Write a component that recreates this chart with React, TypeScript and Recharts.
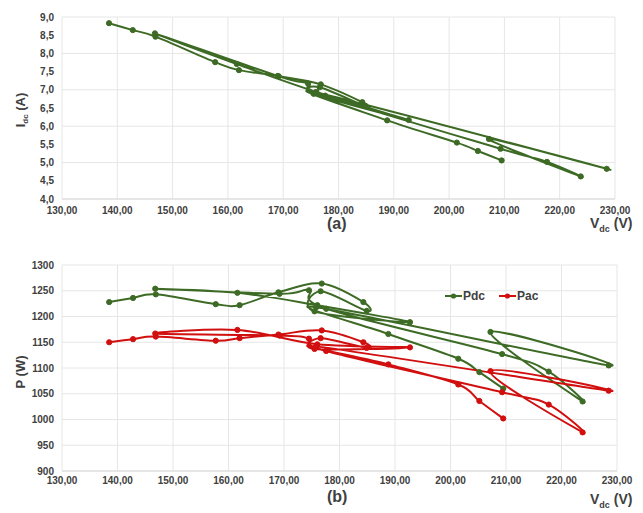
import React from 'react';
import { LineChart, Line, XAxis, YAxis, CartesianGrid } from 'recharts';

// measured points, in recording order
const vdc = [
  138.5, 142.8, 146.9, 157.7, 162.0, 169.0, 176.8, 184.3, 184.9, 176.6,
  175.5, 192.7, 176.0, 161.6, 146.8, 169.2, 174.5, 177.6, 209.3, 217.7,
  223.8, 207.2, 228.5, 175.8, 188.8, 201.4, 205.2, 209.5,
];
const idc = [
  8.83, 8.64, 8.46, 7.76, 7.54, 7.38, 7.15, 6.66, 6.55, 7.07,
  6.89, 6.17, 6.94, 7.71, 8.55, 7.37, 7.17, 6.84, 5.38, 5.02,
  4.62, 5.65, 4.83, 6.93, 6.16, 5.55, 5.32, 5.06,
];
const pdc = [
  1228, 1236, 1243, 1224, 1222, 1247, 1264, 1228, 1211, 1249,
  1210, 1189, 1222, 1246, 1254, 1244, 1251, 1215, 1127, 1093,
  1035, 1170, 1105, 1218, 1166, 1118, 1092, 1060,
];
const pac = [
  1150, 1156, 1161, 1153, 1158, 1165, 1173, 1150, 1139, 1158,
  1137, 1140, 1146, 1174, 1167, 1163, 1157, 1133, 1053, 1029,
  975, 1094, 1056, 1142, 1107, 1068, 1036, 1002,
];

const vTicks = [130, 140, 150, 160, 170, 180, 190, 200, 210, 220, 230];
const iTicks = [4, 4.5, 5, 5.5, 6, 6.5, 7, 7.5, 8, 8.5, 9];
const pTicks = [900, 950, 1000, 1050, 1100, 1150, 1200, 1250, 1300];

const GREEN = '#3d6b25';
const RED = '#d10f0f';
const FONT = '"Liberation Sans", Arial, sans-serif';
const TXT = '#404040';

const rows = vdc.map((v, k) => ({ v, i: idc[k], pdc: pdc[k], pac: pac[k] }));

const fmt2 = (n: number) => n.toFixed(2).replace('.', ',');
const fmt1 = (n: number) => n.toFixed(1).replace('.', ',');

// excel-like smoothed scatter line, keeps point order
const smoothCurve = (context: any) => {
  let pts: number[][] = [];
  return {
    areaStart() {},
    areaEnd() {},
    lineStart() {
      pts = [];
    },
    point(x: number, y: number) {
      pts.push([x, y]);
    },
    lineEnd() {
      const n = pts.length;
      if (!n) return;
      context.moveTo(pts[0][0], pts[0][1]);
      for (let k = 0; k < n - 1; k++) {
        const p0 = pts[k - 1] || pts[k];
        const p1 = pts[k];
        const p2 = pts[k + 1];
        const p3 = pts[k + 2] || p2;
        context.bezierCurveTo(
          p1[0] + (p2[0] - p0[0]) / 6,
          p1[1] + (p2[1] - p0[1]) / 6,
          p2[0] - (p3[0] - p1[0]) / 6,
          p2[1] - (p3[1] - p1[1]) / 6,
          p2[0],
          p2[1]
        );
      }
    },
  };
};

const tick = { fontSize: 10, fontWeight: 700, fill: TXT, fontFamily: FONT };

const abs = (left: number, top: number, extra: React.CSSProperties = {}): React.CSSProperties => ({
  position: 'absolute',
  left,
  top,
  fontFamily: FONT,
  fontWeight: 700,
  color: TXT,
  whiteSpace: 'nowrap',
  lineHeight: 1,
  ...extra,
});

const VdcLabel = ({ top }: { top: number }) => (
  <div style={abs(590, top, { fontSize: 14 })}>
    V<sub style={{ fontSize: 9 }}>dc</sub> (V)
  </div>
);

const LegendItem = ({ color, text }: { color: string; text: string }) => (
  <span style={{ display: 'inline-flex', alignItems: 'center', marginRight: 14 }}>
    <svg width={17} height={8}>
      <line x1={0} y1={4} x2={17} y2={4} stroke={color} strokeWidth={2} />
      <circle cx={8.5} cy={4} r={2.6} fill={color} />
    </svg>
    <span style={{ marginLeft: 1 }}>{text}</span>
  </span>
);

export default function App() {
  const dotG = { r: 2.6, fill: GREEN, stroke: GREEN, strokeWidth: 1 };
  const dotR = { r: 2.6, fill: RED, stroke: RED, strokeWidth: 1 };
  return (
    <div style={{ position: 'relative', width: 643, height: 513, background: '#fff' }}>
      <style>{'body{margin:0}'}</style>

      <LineChart width={643} height={250} data={rows} margin={{ top: 17, right: 28, bottom: 21, left: 12 }}>
        <CartesianGrid stroke="#e6e6e6" />
        <XAxis
          type="number"
          dataKey="v"
          domain={[130, 230]}
          ticks={vTicks}
          tickFormatter={fmt2}
          axisLine={{ stroke: '#d9d9d9' }}
          tickLine={false}
          height={30}
          tick={tick}
        />
        <YAxis
          type="number"
          domain={[4, 9]}
          ticks={iTicks}
          tickFormatter={fmt1}
          axisLine={false}
          tickLine={false}
          width={50}
          tick={tick}
        />
        <Line
          dataKey="i"
          type={smoothCurve as any}
          stroke={GREEN}
          strokeWidth={2}
          dot={dotG}
          activeDot={false}
          isAnimationActive={false}
        />
      </LineChart>

      <div style={{ position: 'absolute', left: 0, top: 250 }}>
        <LineChart width={643} height={263} data={rows} margin={{ top: 15, right: 26, bottom: 12, left: 12 }}>
          <CartesianGrid stroke="#e6e6e6" />
          <XAxis
            type="number"
            dataKey="v"
            domain={[130, 230]}
            ticks={vTicks}
            tickFormatter={fmt2}
            axisLine={{ stroke: '#d9d9d9' }}
            tickLine={false}
            tickSize={0}
            tickMargin={6}
            height={30}
            tick={tick}
          />
          <YAxis
            type="number"
            domain={[900, 1300]}
            ticks={pTicks}
            axisLine={false}
            tickLine={false}
            width={50}
            tick={tick}
          />
          <Line
            dataKey="pdc"
            type={smoothCurve as any}
            stroke={GREEN}
            strokeWidth={2}
            dot={dotG}
            activeDot={false}
            isAnimationActive={false}
          />
          <Line
            dataKey="pac"
            type={smoothCurve as any}
            stroke={RED}
            strokeWidth={2}
            dot={dotR}
            activeDot={false}
            isAnimationActive={false}
          />
        </LineChart>
      </div>

      <div style={abs(3, 110, { fontSize: 13, transform: 'translate(0,-50%) rotate(-90deg)', transformOrigin: 'center', width: 38, textAlign: 'center' })}>
        I<sub style={{ fontSize: 8 }}>dc</sub> (A)
      </div>
      <div style={abs(0, 372, { fontSize: 13, transform: 'translate(0,-50%) rotate(-90deg)', transformOrigin: 'center', width: 40, textAlign: 'center' })}>
        P (W)
      </div>

      <div style={abs(327, 216, { fontSize: 16 })}>(a)</div>
      <VdcLabel top={216} />
      <div style={abs(327, 489, { fontSize: 16 })}>(b)</div>
      <VdcLabel top={492} />

      <div style={abs(445, 290, { fontSize: 12, display: 'flex' })}>
        <LegendItem color={GREEN} text="Pdc" />
        <LegendItem color={RED} text="Pac" />
      </div>
    </div>
  );
}
